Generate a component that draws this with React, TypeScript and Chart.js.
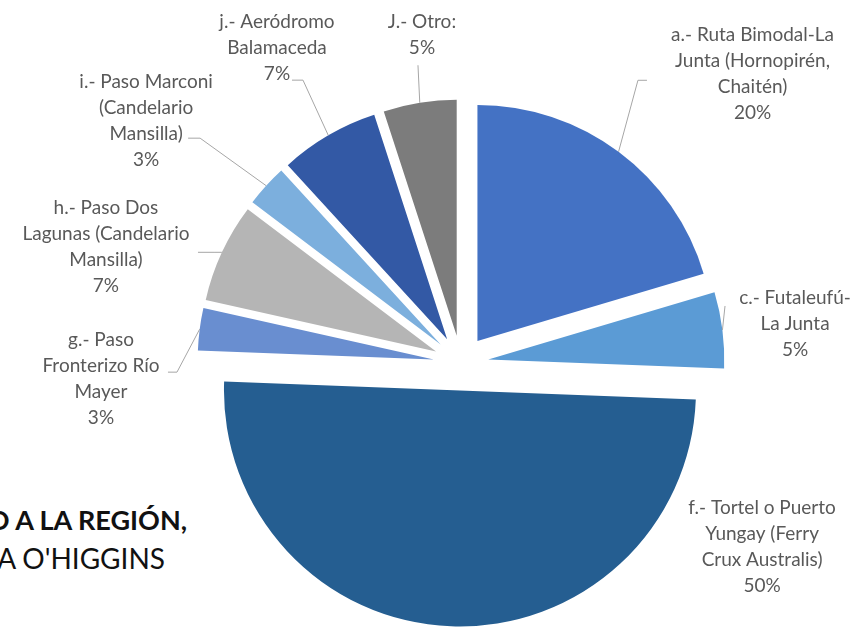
import React, { useEffect, useRef } from "react";
import { Chart, registerables } from "chart.js";

Chart.register(...registerables);

// ---- data ----
const categories: string[][] = [
  ["a.- Ruta Bimodal-La", "Junta (Hornopirén,", "Chaitén)"],
  ["c.- Futaleufú-", "La Junta"],
  ["f.- Tortel o Puerto", "Yungay (Ferry", "Crux Australis)"],
  ["g.- Paso", "Fronterizo Río", "Mayer"],
  ["h.- Paso Dos", "Lagunas (Candelario", "Mansilla)"],
  ["i.- Paso Marconi", "(Candelario", "Mansilla)"],
  ["j.- Aeródromo", "Balamaceda"],
  ["J.- Otro:"],
];
const shares: number[] = [20.4, 5.2, 50.0, 2.9, 6.8, 2.9, 6.8, 5.0];
const sliceColors: string[] = [
  "#4472C4",
  "#5B9BD5",
  "#255E91",
  "#698ED0",
  "#B5B5B5",
  "#7CAFDD",
  "#3359A5",
  "#7C7C7C",
];
const titleLines: string[] = ["O A LA REGIÓN,", "A O'HIGGINS"];

// ---- layout / style ----
const W = 859;
const H = 629;
const PIE_RADIUS = 236;
const EXPLODE = 27.5;
const LABEL_FONT = "19px Lato";
const LABEL_COLOR = "#595959";
const LEADER_COLOR = "#A6A6A6";
const LINE_H = 26;

// label block placement relative to each slice's outer mid-point
const labelLayout = [
  { tx: 134, ty: -117, ex: 19.4, ey: -71.5, tail: 9, leader: true },
  { tx: 72.6, ty: -32, ex: 2.6, ey: -24, tail: 0, leader: true },
  { tx: 311, ty: -118, ex: 0, ey: 0, tail: 0, leader: false },
  { tx: -98.7, ty: 11, ex: -22.7, ey: 43, tail: -9, leader: true },
  { tx: -115.9, ty: -44, ex: -6.9, ey: 0, tail: -17, leader: true },
  { tx: -120, ty: -103.5, ex: -66, ey: -47.5, tail: -12, leader: true },
  { tx: -51.3, ty: -113.2, ex: -25.3, ey: -55.2, tail: -11, leader: true },
  { tx: 2.2, ty: -80.5, ex: -1.8, ey: -37.5, tail: 0, leader: true },
];

const explodePlugin = {
  id: "explodeSlices",
  afterDatasetUpdate(chart: any, args: any) {
    const meta = chart.getDatasetMeta(args.index);
    meta.data.forEach((arc: any) => {
      const mid = (arc.startAngle + arc.endAngle) / 2;
      arc.x += EXPLODE * Math.cos(mid);
      arc.y += EXPLODE * Math.sin(mid);
    });
  },
};

const labelPlugin = {
  id: "sliceLabels",
  afterDatasetsDraw(chart: any) {
    const ctx: CanvasRenderingContext2D = chart.ctx;
    const meta = chart.getDatasetMeta(0);
    const values: number[] = chart.data.datasets[0].data;
    const total = values.reduce((s, v) => s + v, 0);
    ctx.save();
    meta.data.forEach((arc: any, i: number) => {
      const mid = (arc.startAngle + arc.endAngle) / 2;
      const px = arc.x + arc.outerRadius * Math.cos(mid);
      const py = arc.y + arc.outerRadius * Math.sin(mid);
      const L = labelLayout[i];
      if (L.leader) {
        ctx.beginPath();
        ctx.moveTo(px, py);
        ctx.lineTo(px + L.ex, py + L.ey);
        if (L.tail) ctx.lineTo(px + L.ex + L.tail, py + L.ey);
        ctx.strokeStyle = LEADER_COLOR;
        ctx.lineWidth = 1;
        ctx.stroke();
      }
      const pct = Math.round((values[i] / total) * 100);
      const lines = [...categories[i], pct + "%"];
      ctx.font = LABEL_FONT;
      ctx.fillStyle = LABEL_COLOR;
      ctx.textAlign = "center";
      ctx.textBaseline = "middle";
      lines.forEach((t, k) => ctx.fillText(t, px + L.tx, py + L.ty + k * LINE_H));
    });
    ctx.restore();
  },
};

export default function App() {
  const ref = useRef<HTMLCanvasElement>(null);

  useEffect(() => {
    document.body.style.margin = "0";
    const canvas = ref.current;
    if (!canvas) return;
    const chart = new Chart(canvas, {
      type: "pie",
      data: {
        labels: categories.map((c) => c.join(" ")),
        datasets: [
          {
            data: shares,
            backgroundColor: sliceColors,
            borderWidth: 0,
            hoverOffset: 0,
          },
        ],
      },
      options: {
        responsive: false,
        animation: false,
        events: [],
        radius: PIE_RADIUS,
        layout: { padding: { left: 63, top: 97, right: 0, bottom: 0 } },
        plugins: {
          legend: { display: false },
          tooltip: { enabled: false },
        },
      } as any,
      plugins: [explodePlugin, labelPlugin],
    });
    if ((document as any).fonts && (document as any).fonts.ready) {
      (document as any).fonts.ready.then(() => {
        try {
          chart.update();
        } catch (e) {}
      });
    }
    return () => chart.destroy();
  }, []);

  return (
    <div
      style={{
        position: "absolute",
        left: 0,
        top: 0,
        width: W,
        height: H,
        overflow: "hidden",
        background: "#ffffff",
      }}
    >
      <div
        style={{
          position: "absolute",
          right: W - 187,
          top: 506,
          whiteSpace: "nowrap",
          font: "bold 27px Lato",
          lineHeight: "27px",
          color: "#111111",
        }}
      >
        {titleLines[0]}
      </div>
      <div
        style={{
          position: "absolute",
          right: W - 165,
          top: 544,
          whiteSpace: "nowrap",
          font: "28px Lato",
          lineHeight: "28px",
          color: "#111111",
        }}
      >
        {titleLines[1]}
      </div>
      <canvas
        ref={ref}
        width={W}
        height={H}
        style={{ position: "absolute", left: 0, top: 0, width: W, height: H }}
      />
    </div>
  );
}
